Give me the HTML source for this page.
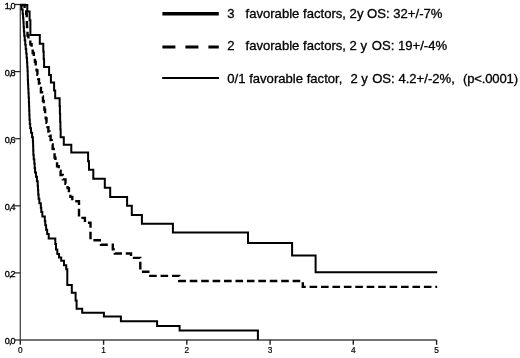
<!DOCTYPE html>
<html><head><meta charset="utf-8"><style>
html,body{margin:0;padding:0;background:#fff;}
svg{display:block;filter:grayscale(1);}
text{font-family:"Liberation Sans",sans-serif;fill:#000;stroke:#000;stroke-width:0.3px;white-space:pre;}
.ax{font-size:8.3px;stroke-width:0.2px;}
.ay{font-size:9px;letter-spacing:-0.9px;stroke-width:0.35px;}
.lg{font-size:12.5px;}
</style></head><body>
<svg width="520" height="358" viewBox="0 0 520 358">
<line x1="20.3" y1="4.5" x2="20.3" y2="340.0" stroke="#444" stroke-width="1.3"/>
<line x1="20.3" y1="340.0" x2="436.6" y2="340.0" stroke="#444" stroke-width="1.3"/>
<line x1="14.8" y1="4.5" x2="20.3" y2="4.5" stroke="#222" stroke-width="1.2"/>
<text x="14.6" y="8.7" text-anchor="end" class="ay">1,0</text>
<line x1="14.8" y1="71.6" x2="20.3" y2="71.6" stroke="#222" stroke-width="1.2"/>
<text x="14.6" y="75.8" text-anchor="end" class="ay">0,8</text>
<line x1="14.8" y1="138.7" x2="20.3" y2="138.7" stroke="#222" stroke-width="1.2"/>
<text x="14.6" y="142.9" text-anchor="end" class="ay">0,6</text>
<line x1="14.8" y1="205.8" x2="20.3" y2="205.8" stroke="#222" stroke-width="1.2"/>
<text x="14.6" y="210.0" text-anchor="end" class="ay">0,4</text>
<line x1="14.8" y1="272.9" x2="20.3" y2="272.9" stroke="#222" stroke-width="1.2"/>
<text x="14.6" y="277.1" text-anchor="end" class="ay">0,2</text>
<line x1="14.8" y1="340.0" x2="20.3" y2="340.0" stroke="#222" stroke-width="1.2"/>
<text x="14.6" y="344.2" text-anchor="end" class="ay">0,0</text>
<line x1="20.3" y1="340.0" x2="20.3" y2="344.8" stroke="#222" stroke-width="1.4"/>
<text x="20.3" y="352.6" text-anchor="middle" class="ax">0</text>
<line x1="103.6" y1="340.0" x2="103.6" y2="344.8" stroke="#222" stroke-width="1.4"/>
<text x="103.6" y="352.6" text-anchor="middle" class="ax">1</text>
<line x1="186.8" y1="340.0" x2="186.8" y2="344.8" stroke="#222" stroke-width="1.4"/>
<text x="186.8" y="352.6" text-anchor="middle" class="ax">2</text>
<line x1="270.1" y1="340.0" x2="270.1" y2="344.8" stroke="#222" stroke-width="1.4"/>
<text x="270.1" y="352.6" text-anchor="middle" class="ax">3</text>
<line x1="353.3" y1="340.0" x2="353.3" y2="344.8" stroke="#222" stroke-width="1.4"/>
<text x="353.3" y="352.6" text-anchor="middle" class="ax">4</text>
<line x1="436.6" y1="340.0" x2="436.6" y2="344.8" stroke="#222" stroke-width="1.4"/>
<text x="436.6" y="352.6" text-anchor="middle" class="ax">5</text>
<polyline points="20.00,5.00 21.57,5.00 21.57,9.41 22.66,9.41 22.66,13.81 23.08,13.81 23.08,18.22 23.42,18.22 23.42,22.62 23.64,22.62 23.64,27.03 23.89,27.03 23.89,31.43 24.22,31.43 24.22,35.84 24.71,35.84 24.71,40.25 25.24,40.25 25.24,44.65 25.71,44.65 25.71,49.06 26.21,49.06 26.21,53.46 26.61,53.46 26.61,57.87 27.00,57.87 27.00,62.27 27.27,62.27 27.27,66.68 27.53,66.68 27.53,71.08 27.70,71.08 27.70,75.49 27.83,75.49 27.83,79.90 28.00,79.90 28.00,84.30 28.23,84.30 28.23,88.71 28.45,88.71 28.45,93.11 28.67,93.11 28.67,97.52 28.89,97.52 28.89,101.92 29.04,101.92 29.04,106.33 29.20,106.33 29.20,110.74 29.35,110.74 29.35,115.14 29.51,115.14 29.51,119.55 29.78,119.55 29.78,123.95 30.22,123.95 30.22,128.36 31.02,128.36 31.02,132.76 32.09,132.76 32.09,137.17 32.89,137.17 32.89,141.58 33.10,141.58 33.10,145.98 33.22,145.98 33.22,150.39 33.34,150.39 33.34,154.79 33.72,154.79 33.72,159.20 34.31,159.20 34.31,163.60 34.66,163.60 34.66,168.01 35.05,168.01 35.05,172.42 35.98,172.42 35.98,176.82 36.93,176.82 36.93,181.23 37.69,181.23 37.69,185.63 37.96,185.63 37.96,190.04 38.23,190.04 38.23,194.44 38.60,194.44 38.60,198.85 39.35,198.85 39.35,203.25 40.82,203.25 40.82,207.66 41.29,207.66 41.29,212.07 42.35,212.07 42.35,216.47 44.80,216.47 44.80,220.88 45.29,220.88 45.29,225.28 46.10,225.28 46.10,229.69 47.17,229.69 47.17,234.09 48.71,234.09 48.71,238.50 55.30,238.50 55.30,244.00 56.00,244.00 56.00,249.60 57.30,249.60 57.30,254.10 59.00,254.10 59.00,257.50 61.20,257.50 61.20,260.80 64.00,260.80 64.00,265.30 66.20,265.30 66.20,269.20 67.30,269.20 67.30,285.00 71.80,285.00 71.80,292.80 75.60,292.80 75.60,300.50 76.60,300.50 76.60,308.80 82.20,308.80 82.20,312.70 103.90,312.70 103.90,316.50 120.90,316.50 120.90,321.30 157.10,321.30 157.10,325.90 179.60,325.90 179.60,330.50 257.90,330.50 257.90,340.00" fill="none" stroke="#000" stroke-width="2.0"/>
<polyline points="20.00,5.00 24.59,5.00 24.59,9.36 26.22,9.36 26.22,13.72 26.73,13.72 26.73,18.08 26.86,18.08 26.86,22.44 26.99,22.44 26.99,26.80 27.17,26.80 27.17,31.16 27.49,31.16 27.49,35.52 28.40,35.52 28.40,39.88 30.32,39.88 30.32,44.24 31.60,44.24 31.60,48.60 32.70,48.60 32.70,52.96 33.78,52.96 33.78,57.32 34.88,57.32 34.88,61.68 35.72,61.68 35.72,66.04 36.54,66.04 36.54,70.40 37.42,70.40 37.42,74.76 38.29,74.76 38.29,79.12 38.94,79.12 38.94,83.48 39.69,83.48 39.69,87.84 40.93,87.84 40.93,92.20 42.01,92.20 42.01,96.56 42.94,96.56 42.94,100.92 43.67,100.92 43.67,105.28 44.38,105.28 44.38,109.64 45.08,109.64 45.08,114.00 45.76,114.00 45.76,118.36 46.52,118.36 46.52,122.72 47.44,122.72 47.44,127.08 48.37,127.08 48.37,131.44 49.51,131.44 49.51,135.80 50.62,135.80 50.62,140.16 51.62,140.16 51.62,144.52 52.67,144.52 52.67,148.88 53.71,148.88 53.71,153.24 54.58,153.24 54.58,157.60 55.46,157.60 55.46,161.96 57.05,161.96 57.05,166.32 58.71,166.32 58.71,170.68 60.58,170.68 60.58,175.04 62.83,175.04 62.83,179.40 65.49,179.40 65.49,183.76 67.58,183.76 67.58,188.12 68.90,188.12 68.90,192.48 70.38,192.48 70.38,196.84 72.29,196.84 72.29,201.20 79.00,201.20 79.00,217.90 84.90,217.90 84.90,222.80 90.50,222.80 90.50,240.20 101.00,240.20 101.00,244.80 112.80,244.80 112.80,249.30 114.80,249.30 114.80,253.50 131.00,253.50 131.00,257.90 140.30,257.90 140.30,271.70 148.30,271.70 148.30,275.90 179.20,275.90 179.20,281.00 302.80,281.00 302.80,286.90 437.20,286.90" fill="none" stroke="#000" stroke-width="2.4" stroke-dasharray="7.6 3.83" stroke-dashoffset="0.02"/>
<polyline points="20.00,5.00 27.30,5.00 27.30,11.40 29.60,11.40 29.60,20.30 30.40,20.30 30.40,35.00 39.80,35.00 39.80,43.70 43.30,43.70 43.30,51.47 43.70,51.47 43.70,59.23 44.10,59.23 44.10,67.00 49.10,67.00 49.10,75.10 50.90,75.10 50.90,82.60 54.10,82.60 54.10,90.50 55.20,90.50 55.20,98.20 59.63,98.20 59.63,106.02 59.89,106.02 59.89,113.84 60.15,113.84 60.15,121.66 60.41,121.66 60.41,129.48 60.67,129.48 60.67,137.30 63.80,137.30 63.80,144.80 71.30,144.80 71.30,152.60 88.10,152.60 88.10,161.30 89.00,161.30 89.00,169.80 93.30,169.80 93.30,178.80 104.80,178.80 104.80,187.70 110.20,187.70 110.20,196.90 127.10,196.90 127.10,205.80 131.80,205.80 131.80,215.00 141.90,215.00 141.90,223.80 172.90,223.80 172.90,232.60 248.00,232.60 248.00,243.10 292.10,243.10 292.10,255.40 315.60,255.40 315.60,272.30 437.20,272.30" fill="none" stroke="#000" stroke-width="2.0"/>
<line x1="162.4" y1="13.8" x2="218.8" y2="13.8" stroke="#000" stroke-width="3.4"/>
<line x1="162.4" y1="47.0" x2="218.8" y2="47.0" stroke="#000" stroke-width="3" stroke-dasharray="13 10"/>
<line x1="162.2" y1="78.0" x2="219" y2="78.0" stroke="#000" stroke-width="2"/>
<text transform="translate(227.3 18.35) scale(1.049 1)" class="lg" xml:space="preserve">3   favorable factors, 2y OS: 32+/-7%</text>
<text transform="translate(227.3 50.3) scale(1.049 1)" class="lg" xml:space="preserve">2   favorable factors, 2 y <tspan dx="1.0">OS: 19+/-4%</tspan></text>
<text transform="translate(227.3 82.8) scale(1.049 1)" class="lg" xml:space="preserve">0/1 favorable factor,  <tspan dx="0.75">2 y </tspan><tspan dx="0.6">OS: 4.2+/-2%,  </tspan><tspan dx="0.9" letter-spacing="-0.17">(p&lt;.0001)</tspan></text>
</svg>
</body></html>
